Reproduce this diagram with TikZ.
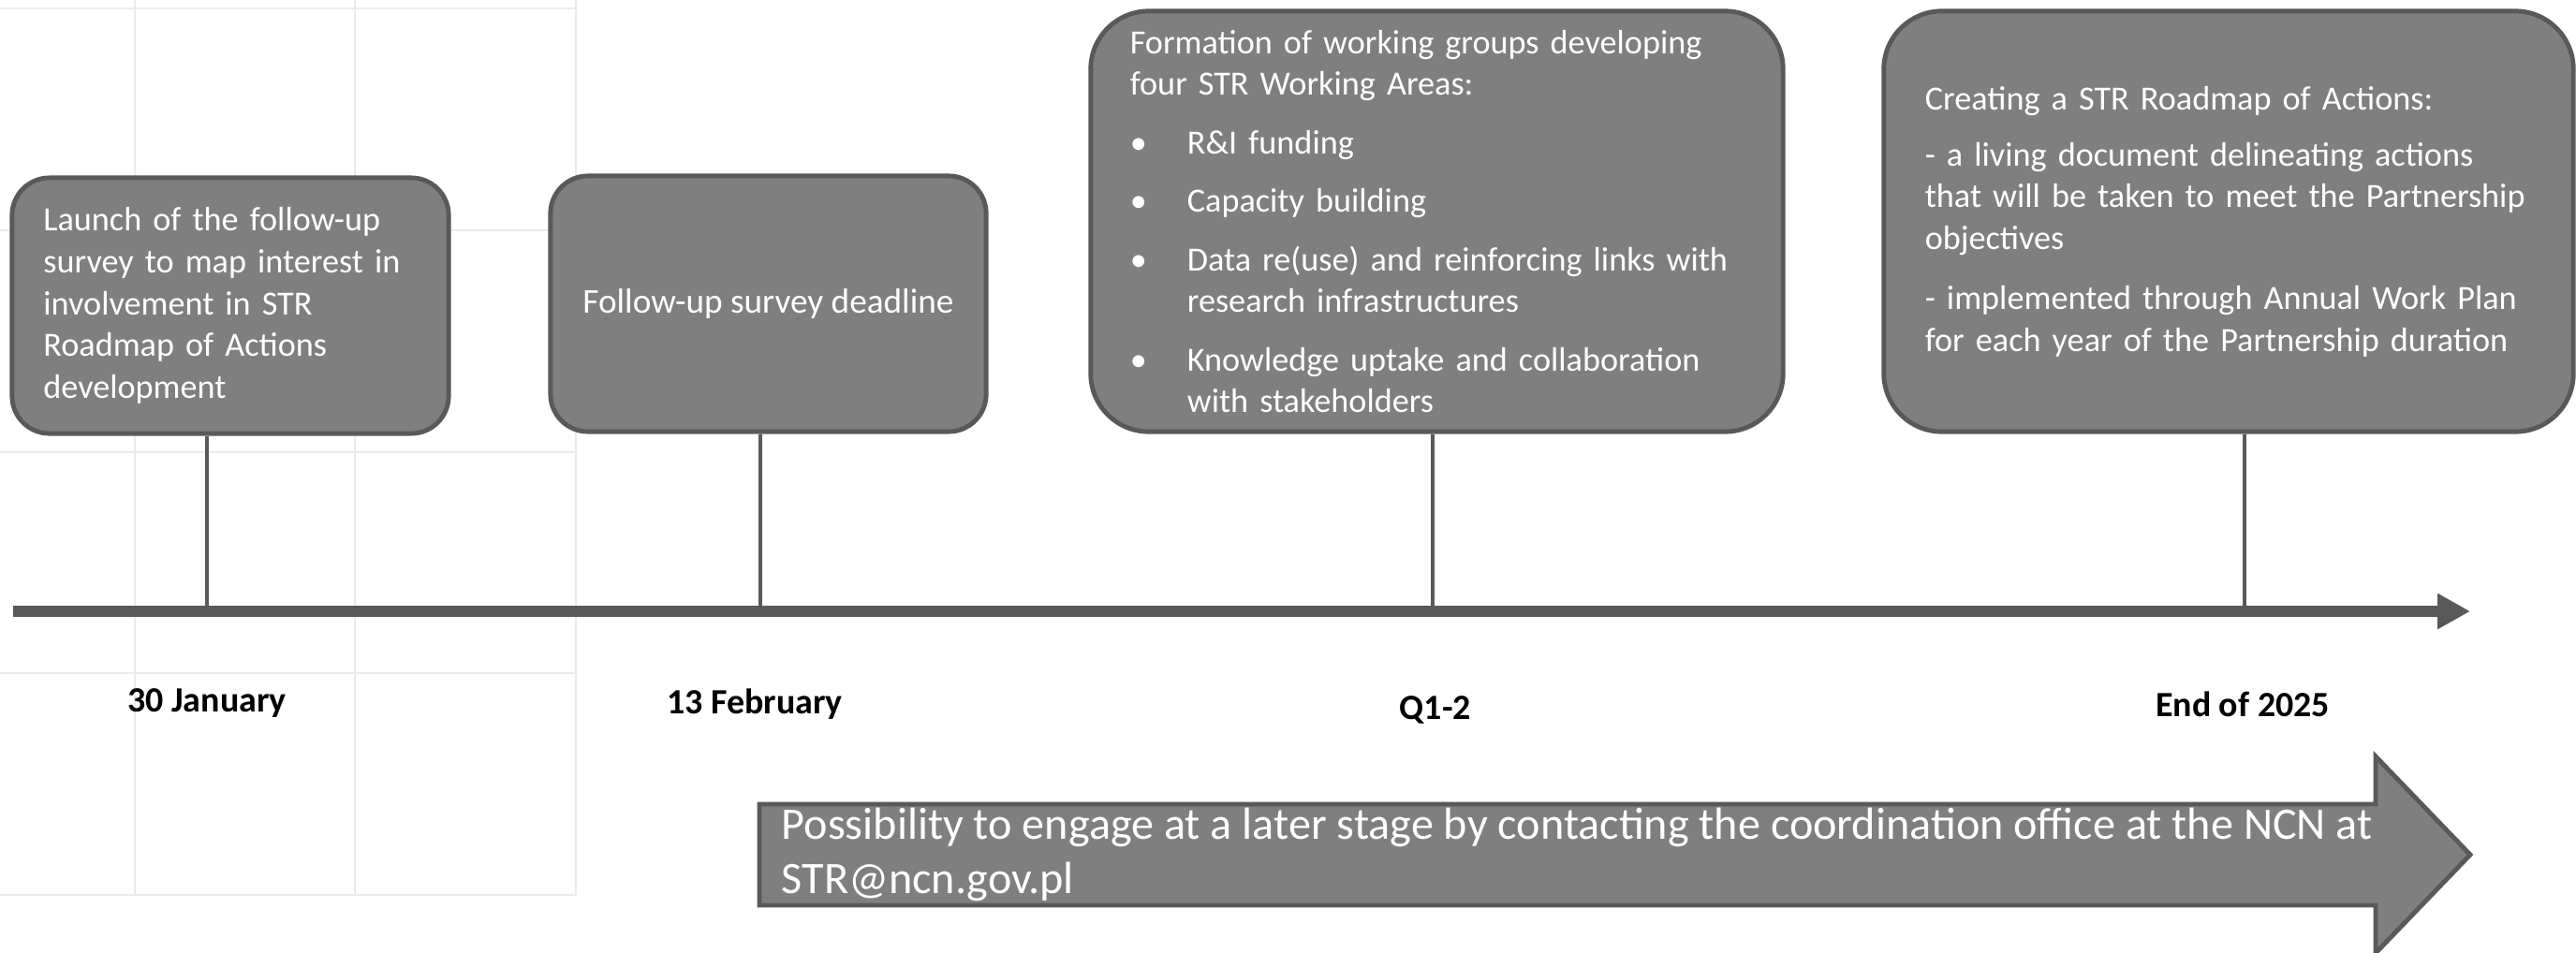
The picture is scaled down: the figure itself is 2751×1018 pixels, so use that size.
\documentclass[tikz,border=0pt]{standalone}
\usepackage{fontspec}
\setmainfont{Carlito}
\usetikzlibrary{positioning,arrows.meta}
\definecolor{boxgray}{HTML}{7F7F7F}
\definecolor{linegray}{HTML}{595959}
\definecolor{gridgray}{HTML}{EBEBEB}
\hyphenpenalty=10000
\exhyphenpenalty=10000
\newcommand\itembul{\makebox[0.61cm][l]{\textbullet}}
\newcommand\itemind{\hspace*{0.61cm}}

\begin{document}
\begin{tikzpicture}[x=0.01cm, y=-0.01cm,
    gridline/.style={gridgray, line width=0.6pt},
    event/.style={draw=linegray, fill=boxgray, line width=1.4pt, text=white,
      font=\fontsize{10.3}{12.6}\selectfont,
      inner sep=0pt, minimum height=2.73cm, rounded corners=0.4cm},
    bigevent/.style={event, minimum height=4.49cm, rounded corners=0.62cm, align=left},
    timeaxis/.style={linegray, line width=3.4pt, -{Triangle[length=0.35cm, width=0.36cm]}},
    tickline/.style={linegray, line width=1.4pt},
    datelabel/.style={font=\fontsize{10.8}{13}\selectfont\bfseries},
    laterarrow/.style={draw=linegray, fill=boxgray, line width=1.4pt}]
  \useasboundingbox (0,0) rectangle (2751,1018);

  \foreach \gx in {144,379,615}
    \draw[gridline] (\gx,0) -- (\gx,956);
  \foreach \gy in {9,246,483,719,956}
    \draw[gridline] (0,\gy) -- (615,\gy);

  \node[event, minimum width=4.66cm, text width=3.99cm, align=left,
    font=\fontsize{10.3}{12.7}\selectfont] (launch) at (246,326.5)
    {Launch of the follow-up\\ survey to map interest in\\ involvement in STR\\ Roadmap of Actions\\ development};
  \node[event, minimum width=4.65cm, align=center, font=\fontsize{10.6}{12.7}\selectfont] (deadline) at (820.5,324.5)
    {Follow-up survey deadline};
  \node[bigevent, minimum width=7.39cm, text width=6.55cm] (groups) at (1534.5,236.5)
    {Formation of working groups developing\\ four STR Working Areas:\\[5.2pt]
     \itembul R\&I funding\\[5.2pt]
     \itembul Capacity building\\[5.2pt]
     \itembul Data re(use) and reinforcing links with\\ \itemind research infrastructures\\[5.2pt]
     \itembul Knowledge uptake and collaboration\\ \itemind with stakeholders};
  \node[bigevent, minimum width=7.36cm, text width=6.48cm] (roadmap) at (2380,236.5)
    {Creating a STR Roadmap of Actions:\\[4.6pt]
     - a living document delineating actions\\ that will be taken to meet the Partnership\\ objectives\\[5.8pt]
     - implemented through Annual Work Plan\\ for each year of the Partnership duration};

  \coordinate (ax0) at (14,653);
  \coordinate (ax1) at (2638,653);
  \coordinate (t1) at (221,653);
  \coordinate (t2) at (812,653);
  \coordinate (t3) at (1530,653);
  \coordinate (t4) at (2397,653);
  \draw[timeaxis] (ax0) -- (ax1);
  \draw[tickline] (launch.south -| t1) -- (t1);
  \draw[tickline] (deadline.south -| t2) -- (t2);
  \draw[tickline] (groups.south -| t3) -- (t3);
  \draw[tickline] (roadmap.south -| t4) -- (t4);

  \node[datelabel] (d1) at (221,751) {30 January};
  \node[datelabel] (d2) at (806,752) {13 February};
  \node[datelabel] (d3) at (1533,758) {Q1-2};
  \node[datelabel] (d4) at (2395,752) {End of 2025};

  \filldraw[laterarrow] (811,859) -- (2537,859) -- (2537,808) -- (2638,913)
    -- (2537,1018) -- (2537,967) -- (811,967) -- cycle;
  \node[anchor=west, align=left, inner sep=0pt, text=white,
    font=\fontsize{13.7}{16.4}\selectfont] (later) at (834,913)
    {Possibility to engage at a later stage by contacting the coordination office at the NCN at\\ STR@ncn.gov.pl};
\end{tikzpicture}
\end{document}
